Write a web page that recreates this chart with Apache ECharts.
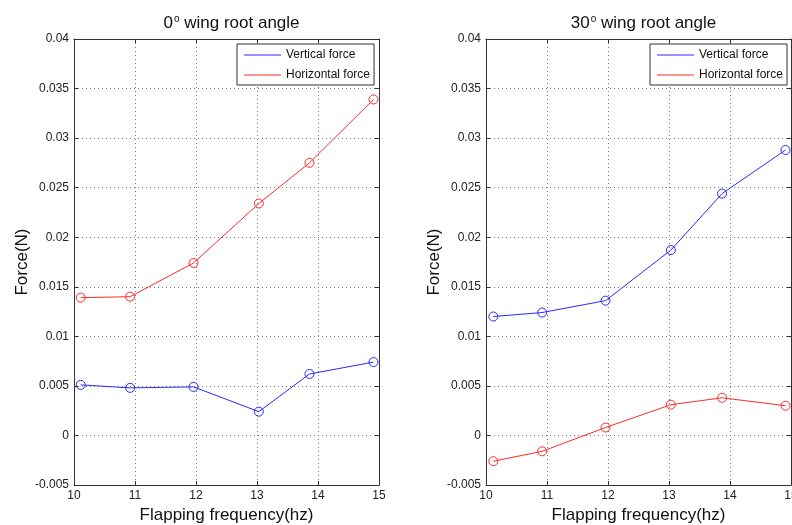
<!DOCTYPE html>
<html>
<head>
<meta charset="utf-8">
<script src="https://cdn.jsdelivr.net/npm/echarts@6/dist/echarts.min.js"></script>
<style>html,body{margin:0;padding:0;background:#fff}#c{width:792px;height:525px}</style>
</head>
<body>
<div id="c"></div>
<script>
// ---- data ----
var xTicks = [10, 11, 12, 13, 14, 15];
var yTicks = [-0.005, 0, 0.005, 0.01, 0.015, 0.02, 0.025, 0.03, 0.035, 0.04];
var seriesNames = ['Vertical force', 'Horizontal force'];
var leftX = [10.11, 10.92, 11.96, 13.03, 13.86, 14.91];
var leftVertical = [0.0051, 0.0048, 0.0049, 0.0024, 0.0062, 0.0074];
var leftHorizontal = [0.0139, 0.0140, 0.0174, 0.0234, 0.0275, 0.0339];
var rightX = [10.12, 10.92, 11.96, 13.03, 13.87, 14.91];
var rightVertical = [0.0120, 0.0124, 0.0136, 0.0187, 0.0244, 0.0288];
var rightHorizontal = [-0.0026, -0.0016, 0.0008, 0.0031, 0.0038, 0.0030];
var titles = [['0', ' wing root angle'], ['30', ' wing root angle']];
var xName = 'Flapping frequency(hz)';
var yName = 'Force(N)';

// ---- chart ----
var FONT = 'Liberation Sans, Arial, sans-serif';
var AX = '#333';
var BLUE = '#2a2aff', RED = '#ff2a2a';
function pairs(xs, ys) { return xs.map(function (x, i) { return [x, ys[i]]; }); }
function fmtY(v) { var s = v.toFixed(3); s = s.replace(/0+$/, '').replace(/\.$/, ''); if (s === '-0') s = '0'; return s; }

var grids = [
  { left: 74, top: 39, width: 305, height: 446, outerBoundsMode: 'none', containLabel: false },
  { left: 486, top: 39, width: 305, height: 446, outerBoundsMode: 'none', containLabel: false }
];
var xAxes = [], yAxes = [], series = [], titleArr = [];
grids.forEach(function (g, gi) {
  xAxes.push({
    type: 'value', gridIndex: gi, min: 10, max: 15, interval: 1, position: 'bottom',
    axisLine: { show: true, onZero: false, lineStyle: { color: AX, width: 1 } },
    axisTick: { show: true, inside: true, length: 4, lineStyle: { color: AX } },
    axisLabel: { color: '#222', fontSize: 12, fontFamily: FONT, margin: 5 },
    splitLine: { show: true, lineStyle: { color: '#777', type: [1, 3], width: 1 } },
    name: xName, nameLocation: 'middle', nameGap: 21,
    nameTextStyle: { color: '#111', fontSize: 17, fontFamily: FONT, verticalAlign: 'top' }
  });
  xAxes.push({
    type: 'value', gridIndex: gi, min: 10, max: 15, interval: 1, position: 'top',
    axisLine: { show: true, onZero: false, lineStyle: { color: AX, width: 1 } },
    axisTick: { show: true, inside: true, length: 4, lineStyle: { color: AX } },
    axisLabel: { show: false }, splitLine: { show: false }
  });
  yAxes.push({
    type: 'value', gridIndex: gi, min: -0.005, max: 0.04, interval: 0.005, position: 'left',
    axisLine: { show: true, onZero: false, lineStyle: { color: AX, width: 1 } },
    axisTick: { show: true, inside: true, length: 4, lineStyle: { color: AX } },
    axisLabel: { color: '#222', fontSize: 12, fontFamily: FONT, margin: 5, formatter: fmtY },
    splitLine: { show: true, lineStyle: { color: '#777', type: [1, 3], width: 1 } },
    name: yName, nameLocation: 'middle', nameGap: 40, nameRotate: 90,
    nameTextStyle: { color: '#111', fontSize: 17, fontFamily: FONT }
  });
  yAxes.push({
    type: 'value', gridIndex: gi, min: -0.005, max: 0.04, interval: 0.005, position: 'right',
    axisLine: { show: true, onZero: false, lineStyle: { color: AX, width: 1 } },
    axisTick: { show: true, inside: true, length: 4, lineStyle: { color: AX } },
    axisLabel: { show: false }, splitLine: { show: false }
  });
  titleArr.push({
    text: '{a|' + titles[gi][0] + '}{s|o}{a|' + titles[gi][1] + '}',
    left: g.left + g.width / 2, top: 9, textAlign: 'center',
    textStyle: {
      fontWeight: 'normal',
      rich: {
        a: { fontSize: 17, fontFamily: FONT, color: '#111', fontWeight: 'normal' },
        s: { fontSize: 10, fontFamily: FONT, color: '#111', fontWeight: 'normal', padding: [0, 0, 9, 1] }
      }
    }
  });
});

var dataSets = [[leftX, leftVertical, leftHorizontal], [rightX, rightVertical, rightHorizontal]];
dataSets.forEach(function (d, gi) {
  [BLUE, RED].forEach(function (col, si) {
    series.push({
      type: 'line', name: seriesNames[si], xAxisIndex: gi * 2, yAxisIndex: gi * 2,
      data: pairs(d[0], d[si + 1]), symbol: 'circle', symbolSize: 9,
      lineStyle: { color: col, width: 1 },
      itemStyle: { color: 'rgba(255,255,255,0)', borderColor: col, borderWidth: 1 },
      emphasis: { disabled: true },
      animation: false, z: 5
    });
  });
});

var legendBase = {
  orient: 'vertical', top: 44, itemWidth: 37, itemHeight: 1, itemGap: 8, icon: 'rect',
  data: seriesNames.map(function (n, i) { return { name: n, itemStyle: { color: [BLUE, RED][i], borderWidth: 0 } }; }),
  textStyle: { fontSize: 12, fontFamily: FONT, color: '#111' },
  backgroundColor: '#fff', borderColor: '#333', borderWidth: 1, borderRadius: 0,
  padding: [5, 4, 4, 7], selectedMode: false
};
var legends = [
  Object.assign({}, legendBase, { left: 237 }),
  Object.assign({}, legendBase, { left: 650 })
];

var chart = echarts.init(document.getElementById('c'), null, { renderer: 'canvas' });
chart.setOption({
  animation: false,
  backgroundColor: '#fff',
  title: titleArr,
  legend: legends,
  grid: grids,
  xAxis: xAxes,
  yAxis: yAxes,
  series: series
});
</script>
</body>
</html>
